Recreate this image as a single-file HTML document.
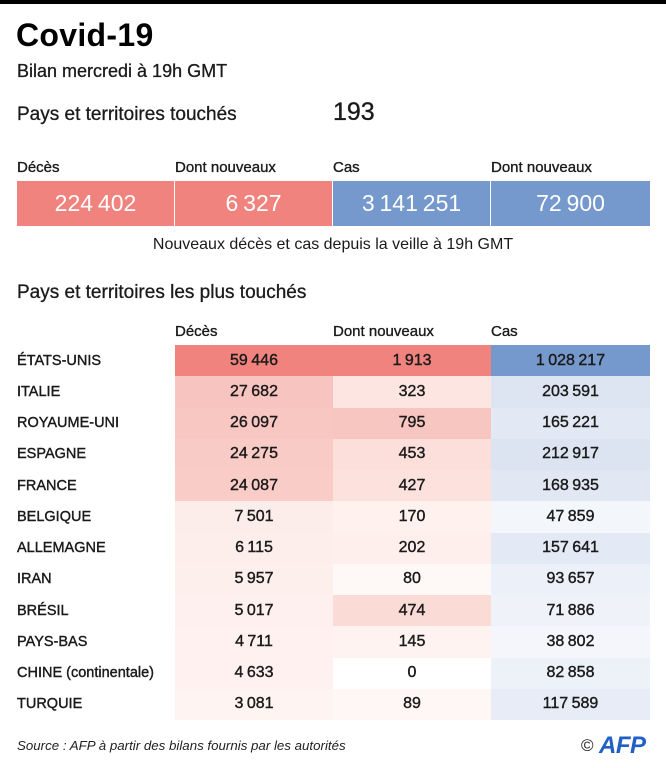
<!DOCTYPE html>
<html>
<head>
<meta charset="utf-8">
<style>
  html,body{margin:0;padding:0;background:#fff;}
  body{width:666px;height:768px;position:relative;overflow:hidden;font-family:"Liberation Sans",Arial,sans-serif;color:#1a1a1a;}
  .abs{position:absolute;white-space:nowrap;line-height:1;}
  .bar{position:absolute;left:0;top:0;width:666px;height:4px;background:#000;}
  .title{left:16px;top:19px;font-size:32px;font-weight:bold;color:#000;letter-spacing:0.3px;}
  .sub{left:17px;top:62px;font-size:18px;-webkit-text-stroke:0.3px #1a1a1a;}
  .h19{font-size:19px;-webkit-text-stroke:0.3px #1a1a1a;}
  .lbl{font-size:15px;-webkit-text-stroke:0.35px #1a1a1a;}
  .box{position:absolute;top:181px;height:45px;display:flex;align-items:center;justify-content:center;color:#fff;font-size:23px;word-spacing:-1.5px;}
  .red{background:#f0837e;}
  .blue{background:#7598cd;}
  .cap{left:0;width:666px;text-align:center;top:237px;font-size:16px;}
  .tbl{position:absolute;left:0;top:345px;width:666px;}
  .row{position:relative;height:31.25px;}
  .row .n{position:absolute;left:17px;top:0;height:31.25px;display:flex;align-items:center;font-size:14.5px;-webkit-text-stroke:0.4px #1a1a1a;white-space:nowrap;}
  .row .c{position:absolute;top:0;height:31.25px;display:flex;align-items:center;justify-content:center;font-size:16px;word-spacing:-1px;-webkit-text-stroke:0.4px #1a1a1a;}
  .c1{left:175px;width:158px;}
  .c2{left:333px;width:158px;}
  .c3{left:491px;width:159px;}
  .src{left:17px;top:739px;font-size:13.3px;font-style:italic;color:#222;}
  .copy{left:581px;top:737px;font-size:17px;color:#222;}
  .afp{left:599px;top:734px;font-size:24px;font-weight:bold;font-style:italic;color:#2160c4;letter-spacing:-0.5px;}
</style>
</head>
<body>
<div class="bar"></div>
<div class="abs title">Covid-19</div>
<div class="abs sub">Bilan mercredi à 19h GMT</div>
<div class="abs h19" style="left:17px;top:105px;">Pays et territoires touchés</div>
<div class="abs" style="left:333px;top:100px;font-size:25px;-webkit-text-stroke:0.35px #1a1a1a;">193</div>

<div class="abs lbl" style="left:17px;top:160px;">Décès</div>
<div class="abs lbl" style="left:175px;top:160px;">Dont nouveaux</div>
<div class="abs lbl" style="left:333px;top:160px;">Cas</div>
<div class="abs lbl" style="left:491px;top:160px;">Dont nouveaux</div>

<div class="box red" style="left:17px;width:157px;">224 402</div>
<div class="box red" style="left:175px;width:157px;">6 327</div>
<div class="box blue" style="left:333px;width:157px;">3 141 251</div>
<div class="box blue" style="left:491px;width:159px;">72 900</div>

<div class="abs cap">Nouveaux décès et cas depuis la veille à 19h GMT</div>

<div class="abs h19" style="left:17px;top:283px;">Pays et territoires les plus touchés</div>

<div class="abs lbl" style="left:175px;top:324px;">Décès</div>
<div class="abs lbl" style="left:333px;top:324px;">Dont nouveaux</div>
<div class="abs lbl" style="left:491px;top:324px;">Cas</div>

<div class="tbl">
  <div class="row"><div class="n">ÉTATS-UNIS</div><div class="c c1" style="background:#f0837e">59 446</div><div class="c c2" style="background:#f0837e">1 913</div><div class="c c3" style="background:#7598cd">1 028 217</div></div>
  <div class="row"><div class="n">ITALIE</div><div class="c c1" style="background:#f8c4bf">27 682</div><div class="c c2" style="background:#fde6e2">323</div><div class="c c3" style="background:#dde5f3">203 591</div></div>
  <div class="row"><div class="n">ROYAUME-UNI</div><div class="c c1" style="background:#f8c7c2">26 097</div><div class="c c2" style="background:#f8c6c1">795</div><div class="c c3" style="background:#e2e8f4">165 221</div></div>
  <div class="row"><div class="n">ESPAGNE</div><div class="c c1" style="background:#f9cbc6">24 275</div><div class="c c2" style="background:#fcdfda">453</div><div class="c c3" style="background:#dce4f2">212 917</div></div>
  <div class="row"><div class="n">FRANCE</div><div class="c c1" style="background:#f9ccc7">24 087</div><div class="c c2" style="background:#fce1dc">427</div><div class="c c3" style="background:#e1e8f4">168 935</div></div>
  <div class="row"><div class="n">BELGIQUE</div><div class="c c1" style="background:#fdedea">7 501</div><div class="c c2" style="background:#fef1ee">170</div><div class="c c3" style="background:#f3f6fb">47 859</div></div>
  <div class="row"><div class="n">ALLEMAGNE</div><div class="c c1" style="background:#fdeeec">6 115</div><div class="c c2" style="background:#feefec">202</div><div class="c c3" style="background:#e3e9f5">157 641</div></div>
  <div class="row"><div class="n">IRAN</div><div class="c c1" style="background:#fdefec">5 957</div><div class="c c2" style="background:#fef8f6">80</div><div class="c c3" style="background:#ecf0f8">93 657</div></div>
  <div class="row"><div class="n">BRÉSIL</div><div class="c c1" style="background:#fef0ee">5 017</div><div class="c c2" style="background:#fbdbd6">474</div><div class="c c3" style="background:#eff2f9">71 886</div></div>
  <div class="row"><div class="n">PAYS-BAS</div><div class="c c1" style="background:#fef1ef">4 711</div><div class="c c2" style="background:#fef3f1">145</div><div class="c c3" style="background:#f4f6fb">38 802</div></div>
  <div class="row"><div class="n">CHINE (continentale)</div><div class="c c1" style="background:#fef1ef">4 633</div><div class="c c2" style="background:#ffffff">0</div><div class="c c3" style="background:#edf1f8">82 858</div></div>
  <div class="row"><div class="n">TURQUIE</div><div class="c c1" style="background:#fef4f2">3 081</div><div class="c c2" style="background:#fef7f5">89</div><div class="c c3" style="background:#e7ecf6">117 589</div></div>
</div>

<div class="abs src">Source : AFP à partir des bilans fournis par les autorités</div>
<div class="abs copy">©</div>
<div class="abs afp">AFP</div>
</body>
</html>
